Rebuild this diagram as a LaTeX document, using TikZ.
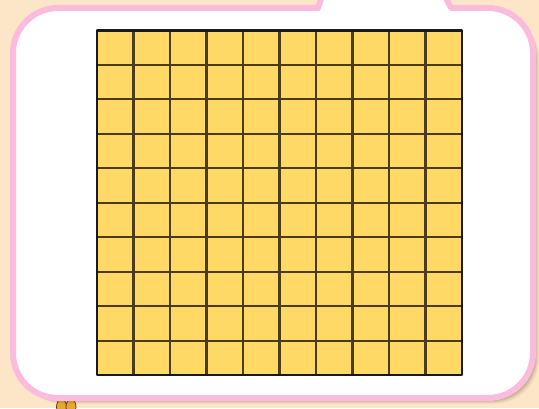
\documentclass[tikz,border=0pt]{standalone}
\definecolor{bgpeach}{HTML}{FDE6C8}
\definecolor{panelpink}{HTML}{FBBBDC}
\definecolor{cellfill}{HTML}{FFD966}
\definecolor{gridline}{HTML}{4A3C18}
\definecolor{bunny}{HTML}{E8A82C}
\tikzset{
  panelpath/.style={line width=6pt, draw=panelpink, fill=white, line join=round},
  innerline/.style={line width=2.1pt, draw=gridline},
  outerline/.style={line width=2.6pt, draw=black!90, line join=round},
}
\newcommand{\mypanel}{(13,55) -- (13,355) arc[start angle=180,end angle=90,radius=45] -- (318,400) -- (322,412) -- (445,412) -- (451,400) -- (488,400) arc[start angle=90,end angle=0,radius=45] -- (533,55) arc[start angle=0,end angle=-90,radius=45] -- (58,10) arc[start angle=270,end angle=180,radius=45] -- cycle}
\begin{document}
\begin{tikzpicture}[x=1pt,y=1pt]
\useasboundingbox (0,0) rectangle (539,408);
\clip (0,0) rectangle (539,408);
\fill[bgpeach] (0,0) rectangle (539,408);
% small orange figure peeking at the bottom
\draw[fill=bunny, draw=black!60!brown, line width=0.7pt] (61.5,1) ellipse[x radius=5, y radius=8];
\draw[fill=bunny, draw=black!60!brown, line width=0.7pt] (71,1) ellipse[x radius=5, y radius=8];
% shadow
\foreach \d/\o in {6/0.05,5/0.07,4/0.09,3/0.12}{
  \fill[black!60!brown, opacity=\o] [shift={(\d,-\d)}] \mypanel;
}
% panel
\path[panelpath] \mypanel;
% grid
\fill[cellfill] (97,33) rectangle (462,377.5);
\foreach \i in {1,...,9}{
  \draw[innerline] ({97+\i*36.5},33) -- ({97+\i*36.5},377.5);
  \draw[innerline] (97,{33+\i*34.45}) -- (462,{33+\i*34.45});
}
\draw[outerline] (97,33) rectangle (462,377.5);
\end{tikzpicture}
\end{document}
